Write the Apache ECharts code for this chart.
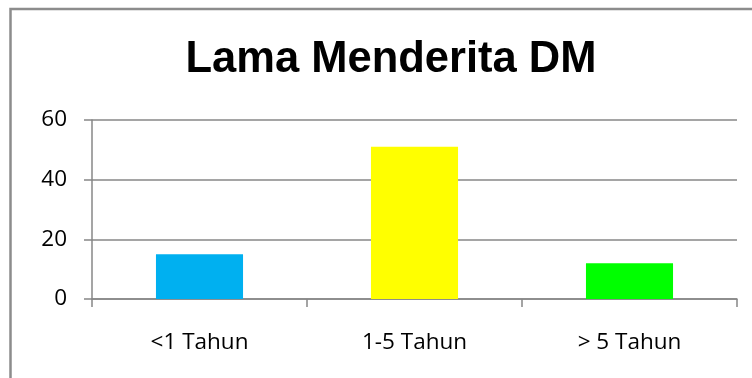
<!DOCTYPE html>
<html>
<head>
<meta charset="utf-8">
<script src="https://cdn.jsdelivr.net/npm/echarts@6/dist/echarts.min.js"></script>
<style>
html,body{margin:0;padding:0;background:#fff;}
#c{width:752px;height:378px;}
</style>
</head>
<body>
<div id="c"></div>
<script>
const titleText = 'Lama Menderita DM';
const categories = ['<1 Tahun', '1-5 Tahun', '> 5 Tahun'];
const values = [15, 51, 12];
const barColors = ['#00B0F0', '#FFFF00', '#00FF00'];
const yTicks = [0, 20, 40, 60];

const chart = echarts.init(document.getElementById('c'), null, {renderer: 'canvas'});
const gray = '#878787';
const labelFont = 'Open Sans, Liberation Sans, Arial, sans-serif';
chart.setOption({
  animation: false,
  backgroundColor: '#ffffff',
  title: {
    text: titleText,
    left: 391,
    top: 38,
    padding: 0,
    textAlign: 'center',
    textStyle: {fontFamily: 'Liberation Sans, Arial, sans-serif', fontWeight: 'bold', fontSize: 43.5, color: '#000'}
  },
  graphic: [{
    type: 'rect',
    shape: {x: 10.5, y: 9, width: 900, height: 500},
    style: {fill: 'none', stroke: '#8c8c8c', lineWidth: 2.5},
    silent: true
  }],
  grid: {left: 92, right: 15, top: 120, bottom: 79, containLabel: false},
  xAxis: {
    type: 'category',
    data: categories,
    axisLine: {lineStyle: {color: gray, width: 1.5}},
    axisTick: {show: true, length: 8, lineStyle: {color: gray, width: 1.5}},
    axisLabel: {margin: 32, color: '#000', fontSize: 22.5, fontFamily: labelFont}
  },
  yAxis: {
    type: 'value',
    min: yTicks[0],
    max: yTicks[yTicks.length - 1],
    interval: yTicks[1] - yTicks[0],
    axisLine: {show: true, lineStyle: {color: gray, width: 1.5}},
    axisTick: {show: true, length: 8, lineStyle: {color: gray, width: 1.5}},
    splitLine: {show: true, lineStyle: {color: gray, width: 1.5}},
    axisLabel: {margin: 25, color: '#000', fontSize: 22.5, fontFamily: labelFont}
  },
  series: [{
    type: 'bar',
    barWidth: '40.5%',
    data: values.map((v, i) => ({value: v, itemStyle: {color: barColors[i]}})),
    z: 3
  }]
});
</script>
</body>
</html>
